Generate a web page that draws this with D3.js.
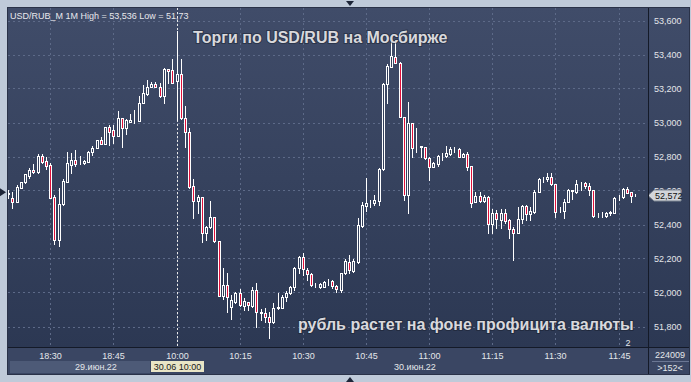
<!DOCTYPE html>
<html>
<head>
<meta charset="utf-8">
<script src="https://cdn.jsdelivr.net/npm/d3@7"></script>
<style>
    body { margin: 0; background: #bfcad9; }
    svg { display: block; font-family: "Liberation Sans", Arial, sans-serif; }
</style>
</head>
<body>
<div id="chart"></div>
<script>
// Sessions (first bar of each, number of 1-minute bars)
const sessions = [
    { day: "29.июн.22", start: "18:20", bars: 40 },
    { day: "30.июн.22", start: "10:00", bars: 110 }
];

// OHLC of USD/RUB_M, 1 minute
const opens = [52.579, 52.558, 52.534, 52.617, 52.648, 52.687, 52.721, 52.707, 52.803, 52.774,
    52.750, 52.562, 52.311, 52.519, 52.652, 52.750, 52.779, 52.760, 52.762, 52.769,
    52.828, 52.852, 52.895, 52.875, 52.972, 52.954, 52.922, 53.025, 52.966, 53.005,
    53.013, 53.011, 53.117, 53.166, 53.211, 53.227, 53.211, 53.156, 53.313, 53.309,
    53.246, 53.285, 53.025, 52.942, 52.626, 52.537, 52.560, 52.348, 52.384, 52.442,
    52.301, 51.981, 52.044, 51.916, 51.946, 51.995, 51.922, 51.946, 51.922, 52.015,
    51.885, 51.881, 51.854, 51.825, 51.911, 51.911, 51.975, 51.995, 52.034, 52.142,
    52.211, 52.132, 52.107, 52.044, 52.033, 52.033, 52.060, 52.068, 52.040, 52.015,
    52.113, 52.181, 52.128, 52.181, 52.393, 52.511, 52.531, 52.525, 52.540, 52.725,
    53.225, 53.328, 53.387, 53.352, 53.034, 52.574, 52.995, 52.852, 52.859, 52.854,
    52.789, 52.740, 52.756, 52.803, 52.803, 52.815, 52.842, 52.842, 52.799, 52.815,
    52.744, 52.534, 52.568, 52.540, 52.564, 52.403, 52.469, 52.427, 52.466, 52.427,
    52.374, 52.352, 52.431, 52.509, 52.462, 52.475, 52.593, 52.666, 52.666, 52.681,
    52.638, 52.481, 52.481, 52.534, 52.599, 52.593, 52.642, 52.642, 52.626, 52.603,
    52.456, 52.456, 52.450, 52.466, 52.469, 52.560, 52.560, 52.607, 52.589, 52.574];
const highs = [52.603, 52.593, 52.632, 52.650, 52.699, 52.734, 52.754, 52.815, 52.813, 52.799,
    52.760, 52.574, 52.613, 52.666, 52.825, 52.819, 52.836, 52.803, 52.777, 52.832,
    52.862, 52.900, 52.913, 52.976, 52.985, 52.985, 53.068, 53.028, 53.021, 53.048,
    53.072, 53.156, 53.221, 53.250, 53.240, 53.236, 53.231, 53.319, 53.313, 53.374,
    53.536, 53.374, 53.097, 52.966, 52.666, 52.572, 52.564, 52.391, 52.537, 52.446,
    52.301, 52.142, 52.113, 51.985, 52.001, 52.019, 51.966, 51.946, 52.034, 52.054,
    51.901, 51.911, 51.887, 51.937, 51.995, 51.985, 52.011, 52.040, 52.152, 52.215,
    52.231, 52.142, 52.113, 52.058, 52.053, 52.065, 52.080, 52.074, 52.044, 52.117,
    52.197, 52.221, 52.197, 52.440, 52.534, 52.675, 52.544, 52.574, 52.731, 53.231,
    53.344, 53.485, 53.485, 53.358, 53.034, 53.122, 52.995, 52.966, 52.862, 52.858,
    52.795, 52.769, 52.809, 52.819, 52.862, 52.854, 52.854, 52.848, 52.819, 52.825,
    52.744, 52.593, 52.593, 52.574, 52.568, 52.489, 52.485, 52.489, 52.489, 52.431,
    52.384, 52.505, 52.515, 52.515, 52.505, 52.603, 52.672, 52.681, 52.701, 52.705,
    52.638, 52.501, 52.548, 52.607, 52.603, 52.662, 52.652, 52.652, 52.642, 52.603,
    52.466, 52.475, 52.475, 52.481, 52.560, 52.574, 52.613, 52.622, 52.593, 52.577];
const lows = [52.556, 52.499, 52.531, 52.615, 52.644, 52.675, 52.703, 52.703, 52.764, 52.725,
    52.556, 52.287, 52.274, 52.515, 52.650, 52.701, 52.746, 52.754, 52.756, 52.768,
    52.809, 52.850, 52.872, 52.872, 52.868, 52.878, 52.919, 52.858, 52.931, 53.005,
    52.997, 53.011, 53.113, 53.162, 53.207, 53.207, 53.152, 53.113, 53.231, 53.231,
    53.015, 53.021, 52.858, 52.613, 52.440, 52.469, 52.295, 52.309, 52.378, 52.299,
    51.980, 51.960, 51.887, 51.842, 51.937, 51.921, 51.897, 51.897, 51.916, 51.799,
    51.838, 51.828, 51.730, 51.821, 51.901, 51.907, 51.952, 51.991, 52.015, 52.113,
    52.103, 52.074, 52.040, 52.034, 52.027, 52.030, 52.044, 52.025, 52.005, 52.005,
    52.109, 52.117, 52.122, 52.175, 52.384, 52.481, 52.505, 52.515, 52.515, 52.720,
    53.117, 53.325, 53.348, 53.031, 52.544, 52.466, 52.799, 52.828, 52.795, 52.785,
    52.662, 52.737, 52.744, 52.779, 52.799, 52.811, 52.828, 52.795, 52.795, 52.721,
    52.501, 52.531, 52.534, 52.534, 52.348, 52.348, 52.378, 52.378, 52.407, 52.319,
    52.191, 52.348, 52.407, 52.427, 52.427, 52.466, 52.589, 52.652, 52.658, 52.632,
    52.442, 52.475, 52.436, 52.531, 52.548, 52.587, 52.603, 52.613, 52.574, 52.446,
    52.446, 52.446, 52.446, 52.456, 52.466, 52.544, 52.554, 52.584, 52.534, 52.568];
const closes = [52.585, 52.534, 52.622, 52.648, 52.695, 52.721, 52.707, 52.803, 52.769, 52.746,
    52.558, 52.311, 52.519, 52.656, 52.760, 52.779, 52.756, 52.759, 52.771, 52.828,
    52.852, 52.895, 52.875, 52.972, 52.946, 52.922, 53.025, 52.966, 53.013, 53.017,
    53.013, 53.113, 53.172, 53.207, 53.227, 53.211, 53.156, 53.315, 53.301, 53.234,
    53.285, 53.025, 52.942, 52.622, 52.537, 52.564, 52.348, 52.384, 52.442, 52.301,
    51.981, 52.044, 51.972, 51.956, 51.995, 51.926, 51.950, 51.926, 52.015, 51.884,
    51.882, 51.854, 51.825, 51.907, 51.913, 51.975, 51.995, 52.034, 52.142, 52.211,
    52.136, 52.109, 52.044, 52.043, 52.048, 52.060, 52.059, 52.040, 52.021, 52.113,
    52.187, 52.132, 52.187, 52.397, 52.515, 52.525, 52.532, 52.544, 52.725, 53.225,
    53.332, 53.391, 53.348, 53.034, 52.574, 52.995, 52.848, 52.850, 52.857, 52.789,
    52.740, 52.760, 52.803, 52.804, 52.819, 52.844, 52.844, 52.799, 52.813, 52.740,
    52.528, 52.568, 52.540, 52.564, 52.403, 52.469, 52.431, 52.469, 52.422, 52.372,
    52.352, 52.431, 52.509, 52.462, 52.481, 52.593, 52.666, 52.667, 52.681, 52.638,
    52.475, 52.482, 52.534, 52.603, 52.600, 52.638, 52.644, 52.626, 52.603, 52.450,
    52.455, 52.457, 52.466, 52.475, 52.554, 52.561, 52.607, 52.587, 52.570, 52.572];

const priceTicks = [51.8, 52.0, 52.2, 52.4, 52.6, 52.8, 53.0, 53.2, 53.4, 53.6];
const timeTicks = ["18:30", "18:45", "10:00", "10:15", "10:30", "10:45", "11:00", "11:15", "11:30", "11:45"];
const lastPrice = 52.572;
const markerPrice = 52.59;

const header = "USD/RUB_M 1M High = 53,536 Low = 51,73";
const title = "Торги по USD/RUB на Мосбирже";
const subtitle = "рубль растет на фоне профицита валюты";

const width = 691, height = 382;
const plot = { left: 8, top: 8, right: 648, bottom: 347 };
const axisBottom = 374, panelRight = 689;

// build the minute keys of both sessions
const parseHM = d3.timeParse("%H:%M"), fmtHM = d3.timeFormat("%H:%M");
const times = sessions.flatMap(s => d3.range(s.bars).map(k => {
    const label = fmtHM(d3.timeMinute.offset(parseHM(s.start), k));
    return { key: s.day + " " + label, label };
}));
const bars = times.map((t, i) => ({ key: t.key, o: opens[i], h: highs[i], l: lows[i], c: closes[i] }));
const keyOf = label => times.find(t => t.label === label).key;

const x = d3.scaleBand().domain(times.map(t => t.key)).range([6, 637.5]).padding(0);
const y = d3.scaleLinear().domain([51.8, 53.6]).range([326.5, 20.5]);
const cx = k => Math.round(x(k) + x.bandwidth() / 2) + 0.5;
const fmtPrice = v => d3.format(".3f")(v).replace(".", ",");

const svg = d3.select("#chart").append("svg")
    .attr("width", width).attr("height", height);

const defs = svg.append("defs");
const grad = defs.append("linearGradient").attr("id", "bg").attr("x1", 0).attr("x2", 0).attr("y1", 0).attr("y2", 1);
grad.append("stop").attr("offset", "0%").attr("stop-color", "#404c69");
grad.append("stop").attr("offset", "100%").attr("stop-color", "#2c3853");
defs.append("clipPath").attr("id", "clip").append("rect")
    .attr("x", plot.left).attr("y", plot.top)
    .attr("width", plot.right - plot.left).attr("height", plot.bottom - plot.top);

// panels
svg.append("rect").attr("x", plot.left).attr("y", plot.top)
    .attr("width", panelRight - plot.left).attr("height", plot.bottom - plot.top)
    .attr("fill", "url(#bg)");
svg.append("rect").attr("x", plot.left).attr("y", plot.bottom)
    .attr("width", panelRight - plot.left).attr("height", axisBottom - plot.bottom)
    .attr("fill", "#3a4663");

// grid
const grid = svg.append("g").attr("clip-path", "url(#clip)")
    .attr("stroke", "#5d6a88").attr("stroke-dasharray", "2,3").attr("stroke-width", 1);
grid.selectAll("line.h").data(priceTicks).enter().append("line")
    .attr("x1", plot.left).attr("x2", plot.right)
    .attr("y1", d => Math.round(y(d)) + 0.5).attr("y2", d => Math.round(y(d)) + 0.5);
grid.selectAll("line.v").data(timeTicks).enter().append("line")
    .attr("y1", plot.top).attr("y2", plot.bottom)
    .attr("x1", d => cx(keyOf(d))).attr("x2", d => cx(keyOf(d)));

// day separator at 10:00
svg.append("line")
    .attr("x1", cx(keyOf("10:00"))).attr("x2", cx(keyOf("10:00")))
    .attr("y1", plot.top).attr("y2", plot.bottom)
    .attr("stroke", "#e8e8e8").attr("stroke-dasharray", "2,2");

// candles
const candles = svg.append("g").attr("clip-path", "url(#clip)")
    .selectAll("g").data(bars).enter().append("g");
candles.append("line")
    .attr("x1", d => cx(d.key)).attr("x2", d => cx(d.key))
    .attr("y1", d => Math.round(y(d.h))).attr("y2", d => Math.round(y(d.l)) + 1)
    .attr("stroke", "#ffffff");
candles.append("rect")
    .attr("x", d => cx(d.key) - 1)
    .attr("y", d => Math.round(y(Math.max(d.o, d.c))) + 0.5)
    .attr("width", 2)
    .attr("height", d => Math.round(y(Math.min(d.o, d.c))) - Math.round(y(Math.max(d.o, d.c))))
    .attr("fill", d => d.c < d.o ? "#e0103a" : "#34405c")
    .attr("stroke", "#ffffff");

// price axis
svg.append("g").selectAll("text").data(priceTicks).enter().append("text")
    .attr("x", 654).attr("y", d => y(d)).attr("dy", "0.35em")
    .attr("font-size", 9).attr("fill", "#e4e6ea")
    .text(fmtPrice);

// last price tag
const ly = Math.round(y(lastPrice)) + 0.5;
svg.append("path")
    .attr("d", `M${plot.right},${ly} L${plot.right + 6},${ly - 5.5} L681,${ly - 5.5} L681,${ly + 5.5} L${plot.right + 6},${ly + 5.5} Z`)
    .attr("fill", "#d2d5da").attr("stroke", "#7d8592");
svg.append("text").attr("x", 655).attr("y", ly).attr("dy", "0.35em")
    .attr("font-size", 9).attr("fill", "#111").text(fmtPrice(lastPrice));

// time axis
svg.append("rect").attr("x", 10).attr("y", 361).attr("width", 140).attr("height", 12).attr("fill", "#4d5a77");
svg.append("g").selectAll("text").data(timeTicks).enter().append("text")
    .attr("x", d => cx(keyOf(d))).attr("y", 356).attr("dy", "0.35em")
    .attr("text-anchor", "middle").attr("font-size", 9).attr("fill", "#e4e6ea")
    .text(d => d);
svg.append("text").attr("x", 96).attr("y", 367).attr("dy", "0.35em")
    .attr("text-anchor", "middle").attr("font-size", 9).attr("fill", "#e4e6ea").text(sessions[0].day);
svg.append("text").attr("x", 415).attr("y", 367).attr("dy", "0.35em")
    .attr("text-anchor", "middle").attr("font-size", 9).attr("fill", "#e4e6ea").text(sessions[1].day);
svg.append("rect").attr("x", 151).attr("y", 361).attr("width", 53).attr("height", 11).attr("fill", "#e9e5c6");
svg.append("text").attr("x", 177.5).attr("y", 366.5).attr("dy", "0.35em")
    .attr("text-anchor", "middle").attr("font-size", 9).attr("fill", "#1a1a1a").text("30.06 10:00");

// bottom-right counters
svg.append("line").attr("x1", 652).attr("x2", panelRight).attr("y1", 361.5).attr("y2", 361.5).attr("stroke", "#6b7794");
svg.append("text").attr("x", 670).attr("y", 355).attr("dy", "0.35em").attr("text-anchor", "middle")
    .attr("font-size", 9).attr("fill", "#e4e6ea").text("224009");
svg.append("text").attr("x", 670).attr("y", 368).attr("dy", "0.35em").attr("text-anchor", "middle")
    .attr("font-size", 9).attr("fill", "#e4e6ea").text(">152<");

// borders
svg.append("line").attr("x1", plot.left).attr("x2", panelRight).attr("y1", plot.bottom + 0.5).attr("y2", plot.bottom + 0.5).attr("stroke", "#141a28");
svg.append("line").attr("x1", plot.right + 0.5).attr("x2", plot.right + 0.5).attr("y1", plot.top).attr("y2", axisBottom).attr("stroke", "#141a28");
svg.append("rect").attr("x", plot.left - 0.5).attr("y", plot.top - 0.5)
    .attr("width", panelRight - plot.left + 1).attr("height", axisBottom - plot.top + 1)
    .attr("fill", "none").attr("stroke", "#2a3248");

// small markers
const my = y(markerPrice);
svg.append("path").attr("d", `M0,${my - 4} L6,${my} L0,${my + 4} Z`).attr("fill", "#1d2538");
svg.append("path").attr("d", "M346,1 L354,1 L350,6 Z").attr("fill", "#1d2538");
svg.append("path").attr("d", "M346,382 L354,382 L350,377 Z").attr("fill", "#1d2538");
svg.append("text").attr("x", 628).attr("y", 346).attr("text-anchor", "middle")
    .attr("font-size", 9).attr("fill", "#e4e6ea").text("2");

// texts
svg.append("text").attr("x", 10).attr("y", 18.5)
    .attr("font-size", 9).attr("fill", "#e8e8ec").text(header);
svg.selectAll("text.caption")
    .data([{ t: title, x: 193, y: 43 }, { t: subtitle, x: 298, y: 330 }])
    .enter().append("text").attr("class", "caption")
    .attr("x", d => d.x).attr("y", d => d.y)
    .attr("font-size", 16).attr("font-weight", "bold")
    .attr("fill", "#d9d9dc")
    .attr("stroke", "rgba(20,26,40,0.45)").attr("stroke-width", 2).attr("paint-order", "stroke")
    .text(d => d.t);
</script>
</body>
</html>
